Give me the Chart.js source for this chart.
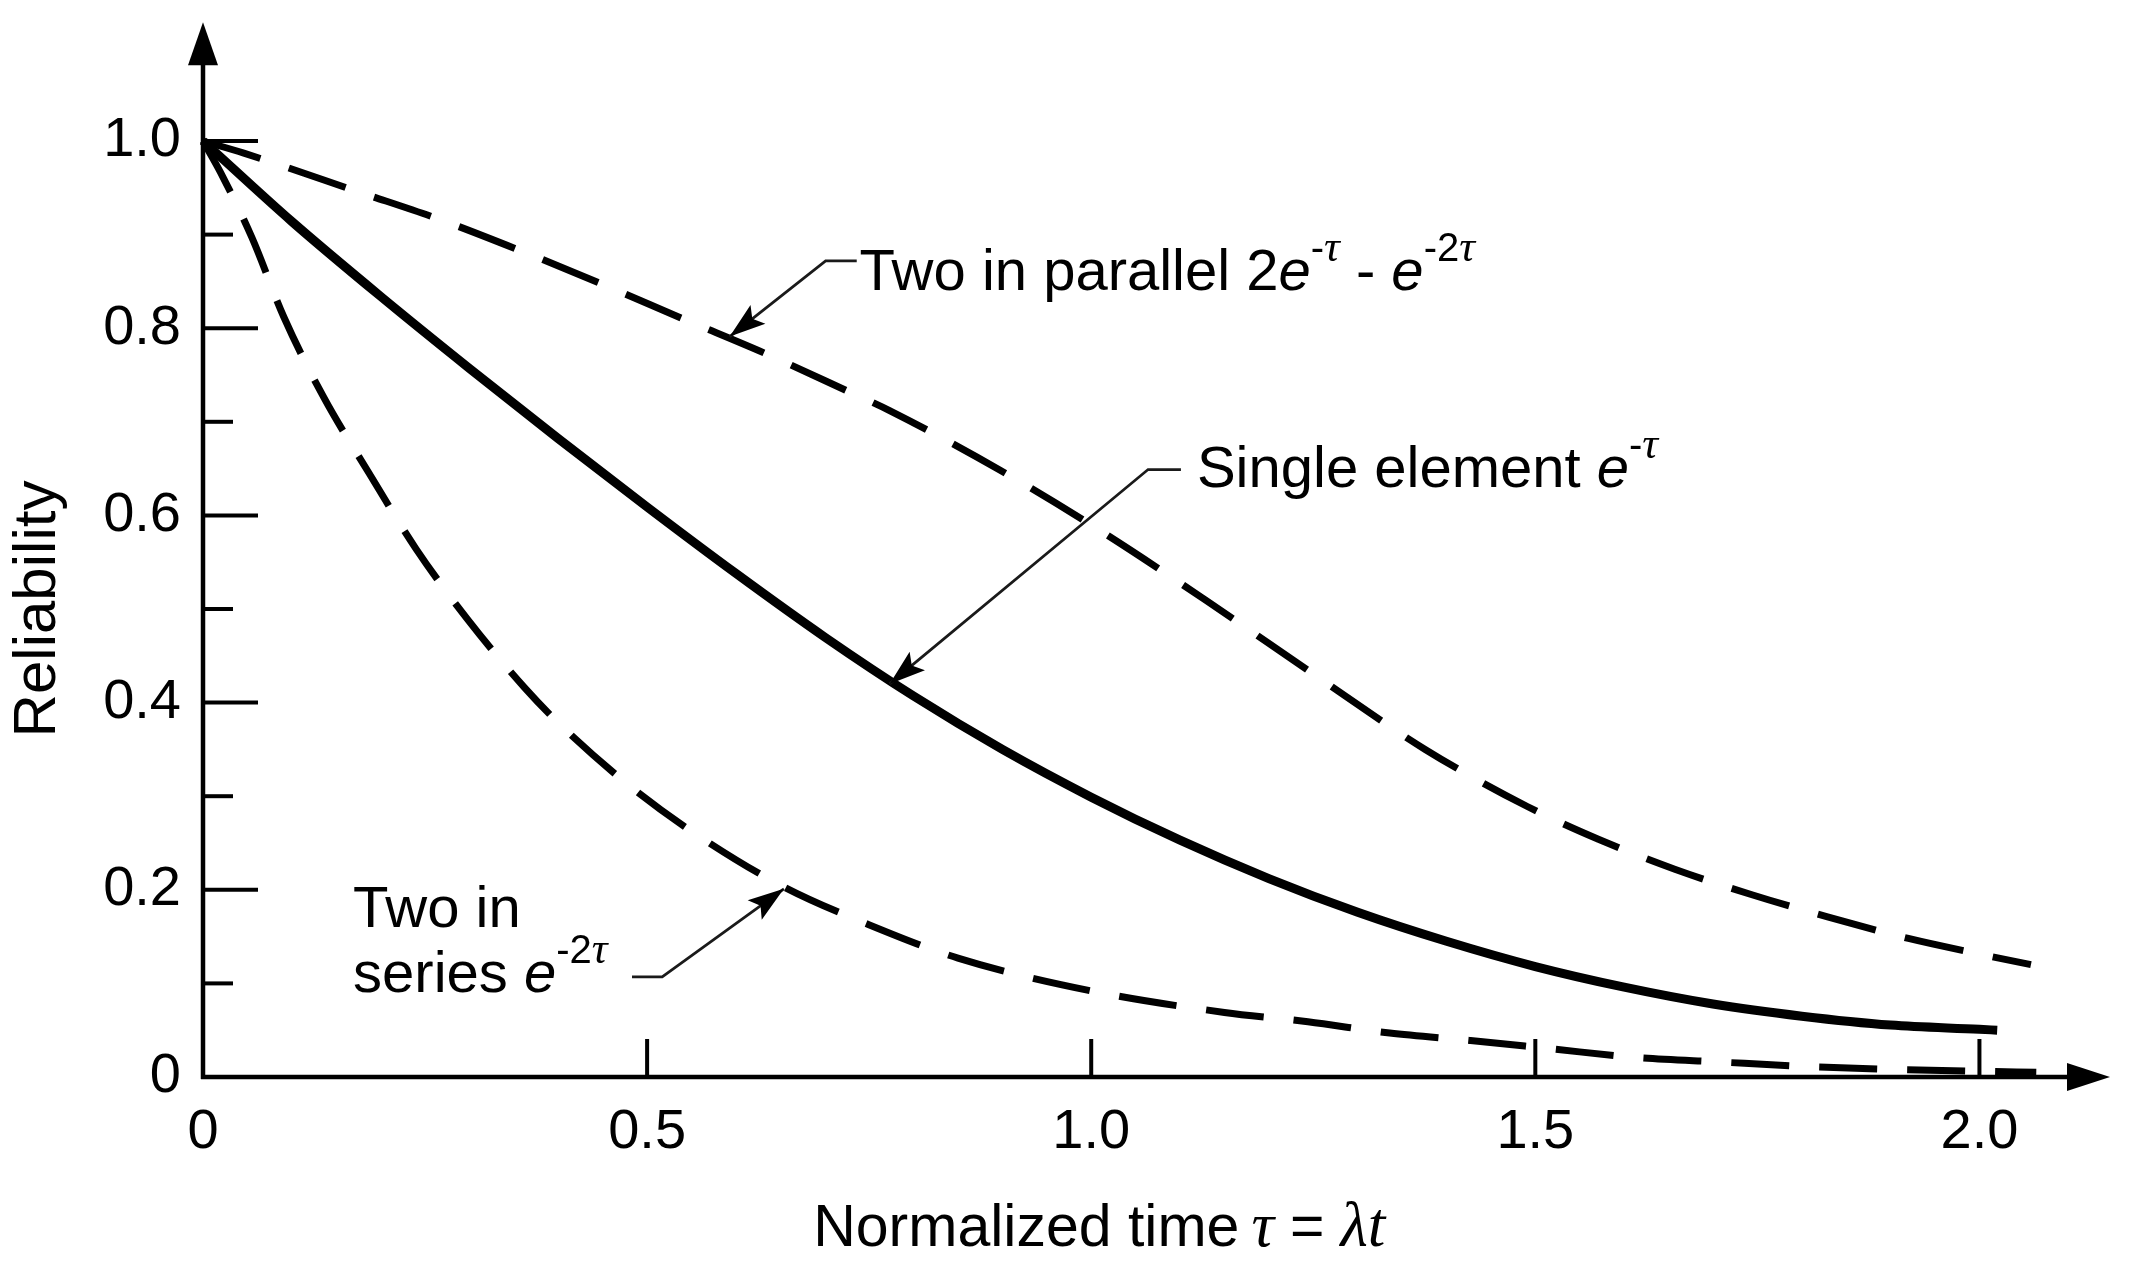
<!DOCTYPE html>
<html><head><meta charset="utf-8">
<script src="https://cdn.jsdelivr.net/npm/chart.js@4.4.1/dist/chart.umd.min.js"></script>
<style>html,body{margin:0;padding:0;background:#fff;}canvas{display:block;}</style>
</head><body>
<canvas id="c" width="2130" height="1270"></canvas>
<script>
// ---- values ----
const parallelTau = [0, 0.046, 0.177, 0.267, 0.357, 0.452, 0.543, 0.633, 0.723, 0.773, 0.898, 1.008, 1.128, 1.248, 1.376, 1.491, 1.571, 1.657, 1.743, 1.829, 1.920, 2.012, 2.058];
const parallelR   = [1.0, 0.987, 0.945, 0.916, 0.883, 0.846, 0.809, 0.773, 0.734, 0.712, 0.648, 0.585, 0.51, 0.432, 0.350, 0.289, 0.254, 0.222, 0.195, 0.171, 0.148, 0.129, 0.12];

const singleTau = [0, 0.1, 0.2, 0.3, 0.4, 0.5, 0.6, 0.7, 0.8, 0.9, 1.0, 1.1, 1.2, 1.3, 1.4, 1.5, 1.6, 1.7, 1.8, 1.9, 2.0, 2.02];
const singleR   = [1.0, 0.914, 0.834, 0.757, 0.682, 0.609, 0.538, 0.470, 0.407, 0.350, 0.299, 0.253, 0.212, 0.176, 0.145, 0.118, 0.096, 0.078, 0.065, 0.0555, 0.051, 0.05];

const seriesTau = [0, 0.02, 0.055, 0.091, 0.136, 0.187, 0.24, 0.297, 0.362, 0.407, 0.487, 0.562, 0.654, 0.749, 0.85, 1.0, 1.15, 1.244, 1.336, 1.427, 1.519, 1.611, 1.708, 1.811, 1.909, 2.007, 2.064];
const seriesR   = [1.0, 0.966, 0.897, 0.812, 0.726, 0.645, 0.564, 0.49, 0.416, 0.372, 0.306, 0.255, 0.203, 0.163, 0.127, 0.092, 0.069, 0.059, 0.047, 0.039, 0.030, 0.021, 0.016, 0.011, 0.008, 0.006, 0.005];

const xTickValues = [0, 0.5, 1.0, 1.5, 2.0];
const xTickLabels = ['0', '0.5', '1.0', '1.5', '2.0'];
const yTickValues = [0, 0.2, 0.4, 0.6, 0.8, 1.0];
const yTickLabels = ['0', '0.2', '0.4', '0.6', '0.8', '1.0'];
const yMinorTicks = [0.1, 0.3, 0.5, 0.7, 0.9];

const yTitle = 'Reliability';
const xTitleParts = ['Normalized time', 'τ', '=', 'λt'];
const parallelLabel = ['Two in parallel 2', 'e', '-', 'τ', ' - ', 'e', '-2', 'τ'];
const singleLabel = ['Single element ', 'e', '-', 'τ'];
const seriesLabel1 = ['Two in'];
const seriesLabel2 = ['series ', 'e', '-2', 'τ'];

// ---- drawing ----
const SANS = '"Liberation Sans", Arial, Helvetica, sans-serif';
const SERIF = '"Liberation Serif", "Times New Roman", serif';
const FONTS = {
  n:   {f: '58px ' + SANS, dy: 0},
  i:   {f: 'italic 58px ' + SANS, dy: 0},
  t:   {f: '59px ' + SANS, dy: 0},
  g:   {f: 'italic 63px ' + SERIF, dy: 0},
  sup: {f: '40px ' + SANS, dy: 29},
  supg:{f: 'italic 44px ' + SERIF, dy: 29}
};
const toPts = (t, r) => t.map((v, i) => ({x: v, y: r[i]}));

function drawRich(ctx, segs, x, y, align) {
  let w = 0;
  segs.forEach(s => { ctx.font = FONTS[s.s].f; s.w = ctx.measureText(s.t).width + (s.dx || 0); w += s.w; });
  let cx = align === 'center' ? x - w / 2 : x;
  segs.forEach(s => { ctx.font = FONTS[s.s].f; ctx.fillText(s.t, cx + (s.dx || 0), y - FONTS[s.s].dy); cx += s.w; });
}

const AXIS_X_END = 2.147, AXIS_Y_END = 1.127;

const axesPlugin = {
  id: 'axesDeco',
  beforeDatasetsDraw(chart) {
    const {ctx, scales: {x, y}} = chart;
    const ox = x.getPixelForValue(0), oy = y.getPixelForValue(0);
    const yTop = y.getPixelForValue(AXIS_Y_END), xEnd = x.getPixelForValue(AXIS_X_END);
    const seg = (a, b, c, d) => { ctx.beginPath(); ctx.moveTo(a, b); ctx.lineTo(c, d); ctx.stroke(); };
    ctx.save();
    ctx.strokeStyle = '#000'; ctx.fillStyle = '#000';
    ctx.lineWidth = 4.5;
    seg(ox, oy + 2, ox, yTop + 30);
    seg(ox - 2, oy, xEnd - 30, oy);
    ctx.beginPath(); ctx.moveTo(ox, yTop); ctx.lineTo(ox - 15, yTop + 43); ctx.lineTo(ox + 15, yTop + 43); ctx.closePath(); ctx.fill();
    ctx.beginPath(); ctx.moveTo(xEnd, oy); ctx.lineTo(xEnd - 43, oy - 14); ctx.lineTo(xEnd - 43, oy + 14); ctx.closePath(); ctx.fill();
    ctx.lineWidth = 4;
    yTickValues.forEach(v => { if (v === 0) return; const p = y.getPixelForValue(v); seg(ox, p, ox + 55, p); });
    yMinorTicks.forEach(v => { const p = y.getPixelForValue(v); seg(ox, p, ox + 30, p); });
    xTickValues.forEach(v => { if (v === 0) return; const p = x.getPixelForValue(v); seg(p, oy, p, oy - 38); });
    ctx.restore();
  }
};

const notes = [
  {lines: [{at: [0.739, 0.841], segs: parallelLabel, st: ['n','i','sup','supg','n','i','sup','supg']}],
   leader: [[0.736, 0.872], [0.701, 0.872], [0.593, 0.791]]},
  {lines: [{at: [1.119, 0.630], segs: singleLabel, st: ['n','i','sup','supg']}],
   leader: [[1.101, 0.649], [1.064, 0.649], [0.773, 0.420]]},
  {lines: [{at: [0.169, 0.160], segs: seriesLabel1, st: ['n']},
           {at: [0.169, 0.091], segs: seriesLabel2, st: ['n','i','sup','supg']}],
   leader: [[0.483, 0.107], [0.517, 0.107], [0.654, 0.201]]}
];

const notesPlugin = {
  id: 'notes',
  afterDatasetsDraw(chart) {
    const {ctx, scales: {x, y}} = chart;
    ctx.save();
    ctx.fillStyle = '#000'; ctx.strokeStyle = '#1a1a1a';
    ctx.textAlign = 'left'; ctx.textBaseline = 'alphabetic';
    notes.forEach(n => {
      n.lines.forEach(l => {
        const segs = l.segs.map((t, i) => ({t, s: l.st[i]}));
        drawRich(ctx, segs, x.getPixelForValue(l.at[0]), y.getPixelForValue(l.at[1]), 'left');
      });
      const pts = n.leader.map(p => [x.getPixelForValue(p[0]), y.getPixelForValue(p[1])]);
      ctx.lineWidth = 2.8;
      ctx.beginPath(); ctx.moveTo(pts[0][0], pts[0][1]);
      for (let i = 1; i < pts.length; i++) ctx.lineTo(pts[i][0], pts[i][1]);
      ctx.stroke();
      const a = pts[pts.length - 2], b = pts[pts.length - 1];
      const ang = Math.atan2(b[1] - a[1], b[0] - a[0]);
      const L = 36, W = 12;
      ctx.beginPath();
      ctx.moveTo(b[0], b[1]);
      ctx.lineTo(b[0] - L * Math.cos(ang) + W * Math.sin(ang), b[1] - L * Math.sin(ang) - W * Math.cos(ang));
      ctx.lineTo(b[0] - L * 0.8 * Math.cos(ang), b[1] - L * 0.8 * Math.sin(ang));
      ctx.lineTo(b[0] - L * Math.cos(ang) - W * Math.sin(ang), b[1] - L * Math.sin(ang) + W * Math.cos(ang));
      ctx.closePath(); ctx.fill();
    });
    // x axis title
    const segs = [
      {t: xTitleParts[0], s: 't'},
      {t: xTitleParts[1], s: 'g', dx: 12},
      {t: xTitleParts[2], s: 't', dx: 16},
      {t: xTitleParts[3], s: 'g', dx: 16}
    ];
    drawRich(ctx, segs, x.getPixelForValue(1.009), y.getPixelForValue(-0.181), 'center');
    ctx.restore();
  }
};

const lineBase = {borderColor: '#000', pointRadius: 0, fill: false, clip: false, cubicInterpolationMode: 'monotone', borderCapStyle: 'butt'};

new Chart(document.getElementById('c'), {
  type: 'line',
  data: {
    datasets: [
      Object.assign({label: 'Two in parallel', data: toPts(parallelTau, parallelR), borderWidth: 7, borderDash: [60, 30]}, lineBase),
      Object.assign({label: 'Single element', data: toPts(singleTau, singleR), borderWidth: 9}, lineBase),
      Object.assign({label: 'Two in series', data: toPts(seriesTau, seriesR), borderWidth: 7, borderDash: [58, 30]}, lineBase)
    ]
  },
  options: {
    responsive: false, animation: false, devicePixelRatio: 1,
    layout: {padding: {left: 0, top: 141, right: 20, bottom: 0}},
    plugins: {legend: {display: false}, tooltip: {enabled: false}},
    scales: {
      x: {
        type: 'linear', min: 0, max: AXIS_X_END,
        afterBuildTicks: s => { s.ticks = xTickValues.map(v => ({value: v})); },
        afterFit: s => { s.height = 193; },
        ticks: {callback: (v, i) => xTickLabels[i], padding: 14, autoSkip: false, maxRotation: 0,
                font: {family: SANS, size: 56}, color: '#000'},
        grid: {display: false}, border: {display: false}
      },
      y: {
        type: 'linear', min: 0, max: 1.0,
        afterBuildTicks: s => { s.ticks = yTickValues.map(v => ({value: v})); },
        afterFit: s => { s.width = 203; },
        ticks: {callback: (v, i) => yTickLabels[i], padding: 14, autoSkip: false,
                font: {family: SANS, size: 56}, color: '#000'},
        grid: {display: false}, border: {display: false},
        title: {display: true, text: yTitle, font: {family: SANS, size: 60}, color: '#000', padding: {top: 2, bottom: 0}}
      }
    }
  },
  plugins: [axesPlugin, notesPlugin]
});
</script>
</body></html>
